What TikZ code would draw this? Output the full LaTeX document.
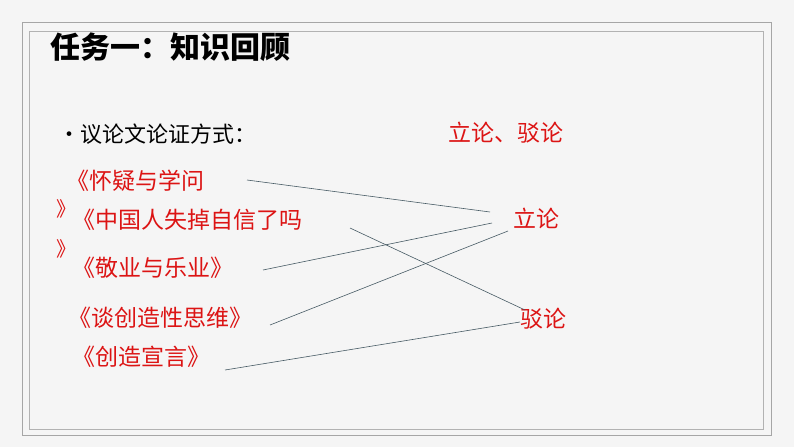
\documentclass[tikz,border=0pt]{standalone}
\usepackage{fontspec}
\setmainfont{Noto Sans CJK SC}
\definecolor{rd}{RGB}{220,20,20}
\definecolor{ln}{RGB}{70,90,100}
\begin{document}
\begin{tikzpicture}[x=1pt,y=-1pt,
 red/.style={anchor=west,inner sep=0,text=rd,font=\fontsize{23}{23}\selectfont},
 wire/.style={draw=ln,line width=0.6pt}]
\useasboundingbox (0,0) rectangle (794,447);
\fill[gray!8] (0,0) rectangle (794,447);
\draw[gray!70,line width=0.8pt] (22,22) rectangle (771,435);
\draw[gray!60,line width=0.6pt] (29,31) rectangle (763,429);
\node[anchor=west,inner sep=0,font=\fontsize{30}{30}\bfseries\selectfont] (title) at (50,47) {任务一：知识回顾};
\node[anchor=west,inner sep=0,font=\fontsize{22}{22}\selectfont] (q) at (58,134) {•议论文论证方式：};
\node[red] (ans) at (448,133) {立论、驳论};
\node[red] (b1) at (66,181) {《怀疑与学问};
\node[red,font=\fontsize{20}{20}\selectfont] (b1e) at (56,209) {》};
\node[red] (b2) at (72,220) {《中国人失掉自信了吗};
\node[red,font=\fontsize{20}{20}\selectfont] (b2e) at (56,249) {》};
\node[red] (b3) at (72,268) {《敬业与乐业》};
\node[red] (b4) at (68,318) {《谈创造性思维》};
\node[red] (b5) at (72,357) {《创造宣言》};
\node[red] (L) at (513,218) {立论};
\node[red] (B) at (520,319) {驳论};
\coordinate (s1) at (247,180); \coordinate (t1) at (490,212);
\coordinate (s2) at (350,228); \coordinate (t2) at (525,310);
\coordinate (s3) at (263,270); \coordinate (t3) at (492,223);
\coordinate (s4) at (270,325); \coordinate (t4) at (508,231);
\coordinate (s5) at (225,370); \coordinate (t5) at (520,322);
\draw[wire] (s1)--(t1); \draw[wire] (s2)--(t2); \draw[wire] (s3)--(t3);
\draw[wire] (s4)--(t4); \draw[wire] (s5)--(t5);
\end{tikzpicture}
\end{document}
